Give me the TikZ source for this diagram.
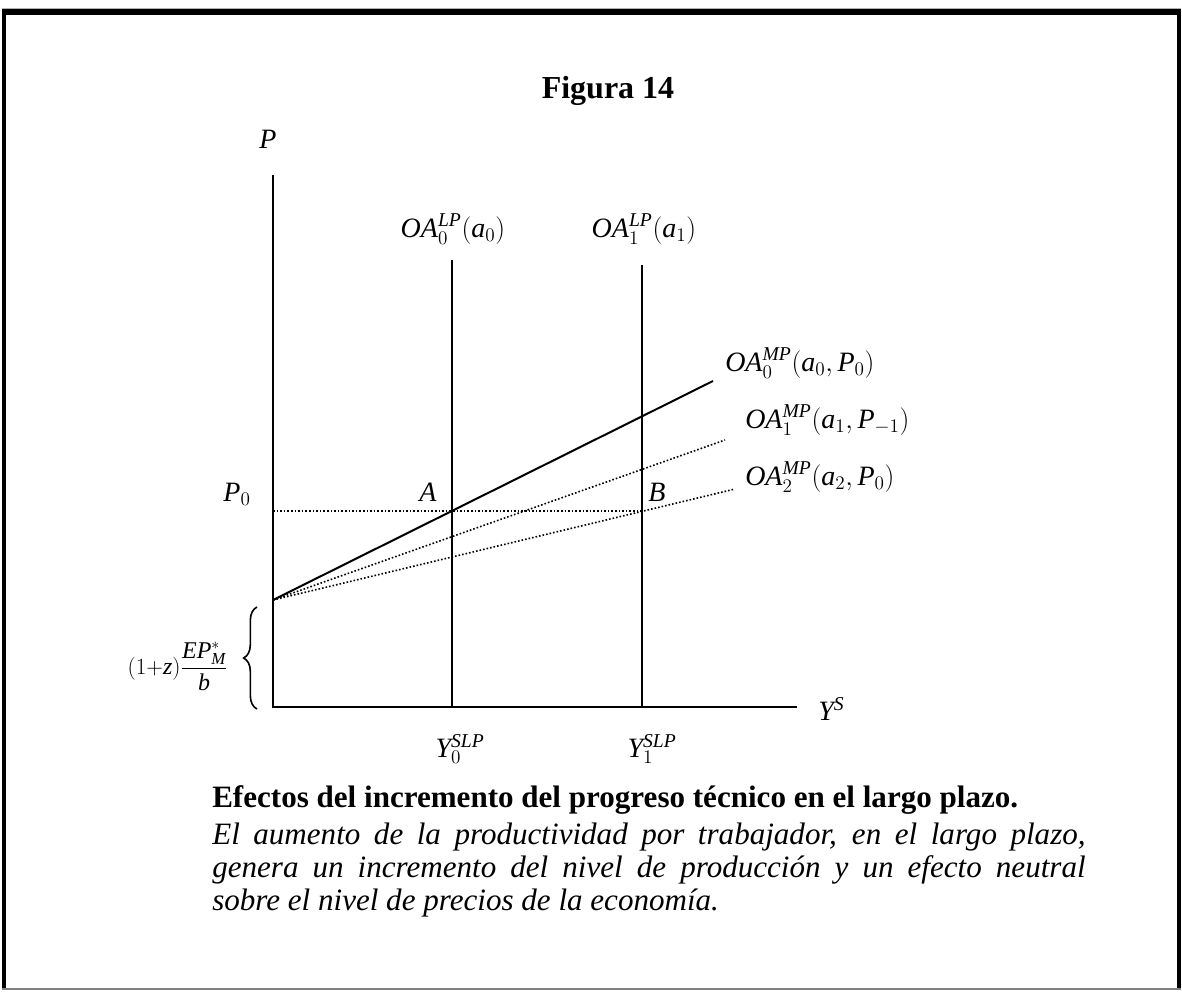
\documentclass[tikz,border=0pt]{standalone}
\usepackage{amsmath}
\usepackage{fontspec}
\setmainfont{Liberation Serif}
\usetikzlibrary{positioning,decorations.pathreplacing}

\newcommand{\vi}[1]{\mathit{#1}}

\begin{document}
\begin{tikzpicture}[
  x=0.75pt, y=-0.75pt,
  axis/.style={line width=1.5pt},
  lpline/.style={line width=1.5pt},
  mpsolid/.style={line width=1.5pt},
  mpdot/.style={line width=1.2pt, dash pattern=on 1.2pt off 1.5pt},
  lbl/.style={inner sep=0pt, font=\fontsize{21}{25}\selectfont},
  caption/.style={inner sep=0pt, align=justify, text width=655pt,
    font=\fontsize{23.3}{24.75}\selectfont\itshape}
]
\useasboundingbox (0,0) rectangle (1182,992);

% frame
\draw[gray!60, line width=0.75pt] (2,8) -- (1181,8);
\fill (2,9) rectangle (1181,15);
\fill (2,9) rectangle (6,990);
\fill (1177,9) rectangle (1181,990);
\draw[gray, line width=1pt] (2,989) -- (1181,989);

\node[lbl, font=\fontsize{24}{28}\selectfont\bfseries] (ttl) at (608,91) {Figura 14};

% axes
\coordinate (o) at (273,707);
\coordinate (ptop) at (273,175);
\coordinate (yend) at (797,707);
\draw[axis] (ptop) -- (o) -- (yend);
\node[lbl] (plab) at (268,139) {$\vi{P}$};
\node[lbl, anchor=west] (ylab) at (818,709) {$\vi{Y}^{\vi{S}}$};

% long-run supply
\coordinate (lp0top) at (452,260);
\coordinate (lp0bot) at (452,707);
\coordinate (lp1top) at (642,265);
\coordinate (lp1bot) at (642,707);
\draw[lpline] (lp0top) -- (lp0bot);
\draw[lpline] (lp1top) -- (lp1bot);
\node[lbl] (lp0lab) at (453,229) {$\vi{OA}_0^{\vi{LP}}(\vi{a}_0)$};
\node[lbl] (lp1lab) at (644,229) {$\vi{OA}_1^{\vi{LP}}(\vi{a}_1)$};
\node[lbl] (y0lab) at (460,749) {$\vi{Y}_0^{\vi{SLP}}$};
\node[lbl] (y1lab) at (652,749) {$\vi{Y}_1^{\vi{SLP}}$};

% medium-run supply
\coordinate (c) at (273,600);
\coordinate (A) at (452,511);
\coordinate (B) at (642,511);
\coordinate (m0) at (713,381);
\coordinate (m1) at (725,440);
\coordinate (m2) at (735,489);
\draw[mpsolid] (c) -- (m0);
\draw[mpdot] (c) -- (m1);
\draw[mpdot] (c) -- (m2);
\draw[mpdot] (c |- A) -- (B);
\node[lbl, anchor=west] (m0lab) at (725,363) {$\vi{OA}_0^{\vi{MP}}(\vi{a}_0,\vi{P}_0)$};
\node[lbl, anchor=west] (m1lab) at (745,420) {$\vi{OA}_1^{\vi{MP}}(\vi{a}_1,\vi{P}_{-1})$};
\node[lbl, anchor=west] (m2lab) at (745,477) {$\vi{OA}_2^{\vi{MP}}(\vi{a}_2,\vi{P}_0)$};
\node[lbl] (alab) at (428,492) {$\vi{A}$};
\node[lbl] (blab) at (657,492) {$\vi{B}$};
\node[lbl] (p0lab) at (237,494) {$\vi{P}_0$};

% intercept
\draw[line width=1.2pt, decorate, decoration={brace, amplitude=10pt}]
  (257,709) -- (257,607);
\node[lbl, anchor=east, font=\fontsize{18}{21}\selectfont] (intlab) at (228,666)
  {$(1{+}\vi{z})\dfrac{\vi{EP}_{\vi{M}}^{*}}{\vi{b}}$};

% caption
\node[lbl, anchor=west, font=\fontsize{23.3}{26}\selectfont\bfseries] (cap) at (212,800)
  {Efectos del incremento del progreso técnico en el largo plazo.};
\node[caption, anchor=north west] (captxt) at (212,823)
  {El aumento de la productividad por trabajador, en el largo plazo,\linebreak
   genera un incremento del nivel de producción y un efecto neutral\linebreak
   sobre el nivel de precios de la economía.};
\end{tikzpicture}
\end{document}
